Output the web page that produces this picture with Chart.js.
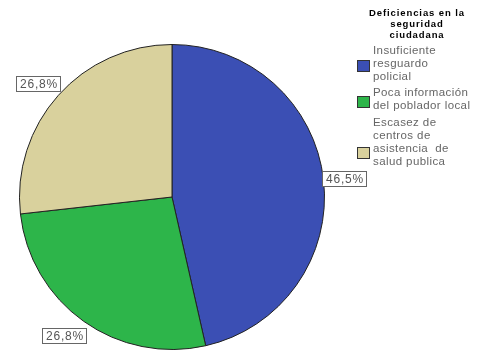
<!DOCTYPE html>
<html><head><meta charset="utf-8">
<script src="https://cdn.jsdelivr.net/npm/chart.js@4/dist/chart.umd.min.js"></script>
<style>html,body{margin:0;padding:0;background:#fff}#wrap{width:482px;height:355px;position:relative}</style>
</head><body><div id="wrap"><canvas id="c" width="482" height="355"></canvas></div>
<script>
const categories = [
  ["Insuficiente", "resguardo", "policial"],
  ["Poca información", "del poblador local"],
  ["Escasez de", "centros de", "asistencia  de", "salud publica"]
];
const values = [46.5, 26.8, 26.8];
const valueLabels = ["46,5%", "26,8%", "26,8%"];
const legendTitle = ["Deficiencias en la", "seguridad", "ciudadana"];
const colors = ["#3b4fb4", "#2db54a", "#d9d19d"];

const labelPlugin = {
  id: 'labels',
  afterDatasetsDraw(chart) {
    const ctx = chart.ctx;
    const meta = chart.getDatasetMeta(0);
    ctx.save();
    ctx.font = '12px "Liberation Sans", Arial, sans-serif';
    ctx.letterSpacing = '0.8px';
    meta.data.forEach((arc, i) => {
      const p = arc.getProps(['x','y','startAngle','endAngle','outerRadius'], true);
      const mid = (p.startAngle + p.endAngle) / 2;
      const dx = Math.cos(mid), dy = Math.sin(mid);
      const ax = p.x + dx * p.outerRadius, ay = p.y + dy * p.outerRadius;
      const t = valueLabels[i];
      const w = Math.round(ctx.measureText(t).width + 6), h = 15;
      const cx = ax + Math.sign(dx) * (w / 2 - 2), cy = ay + dy * (h + 3);
      const x0 = Math.round(cx - w/2) + 0.5, y0 = Math.round(cy - h/2) + 0.5;
      ctx.fillStyle = '#fff';
      ctx.fillRect(x0, y0, w, h);
      ctx.strokeStyle = '#666';
      ctx.lineWidth = 1;
      ctx.strokeRect(x0, y0, w, h);
      ctx.fillStyle = '#555';
      ctx.textAlign = 'center';
      ctx.textBaseline = 'middle';
      ctx.fillText(t, x0 + w / 2 + 0.5, y0 + h / 2 + 1);
    });
    // legend
    ctx.fillStyle = '#000';
    ctx.font = 'bold 9.5px "Liberation Sans", Arial, sans-serif';
    ctx.letterSpacing = '0.9px';
    ctx.textAlign = 'center';
    ctx.textBaseline = 'middle';
    legendTitle.forEach((l, j) => ctx.fillText(l, 417, 13 + j * 11));
    ctx.font = '11.5px "Liberation Sans", Arial, sans-serif';
    ctx.letterSpacing = '0.4px';
    ctx.textAlign = 'left';
    const groupTops = [51, 93, 123];
    const boxCenters = [65.5, 101, 152];
    const lh = 13;
    categories.forEach((lines, i) => {
      lines.forEach((l, j) => {
        ctx.fillStyle = '#666';
        ctx.fillText(l, 373, groupTops[i] + j * lh);
      });
      const by = Math.round(boxCenters[i] - 5.5);
      ctx.fillStyle = colors[i];
      ctx.fillRect(357, by, 12, 11);
      ctx.strokeStyle = '#333';
      ctx.strokeRect(357.5, by + 0.5, 12, 11);
    });
    ctx.restore();
  }
};

new Chart(document.getElementById('c'), {
  type: 'pie',
  data: {
    labels: categories.map(c => c.join(' ')),
    datasets: [{
      data: values,
      backgroundColor: colors,
      borderColor: '#222',
      borderWidth: 1
    }]
  },
  options: {
    responsive: false,
    animation: false,
    layout: { padding: { left: 19, top: 44, right: 157, bottom: 5 } },
    plugins: { legend: { display: false }, tooltip: { enabled: false } }
  },
  plugins: [labelPlugin]
});
</script></body></html>
